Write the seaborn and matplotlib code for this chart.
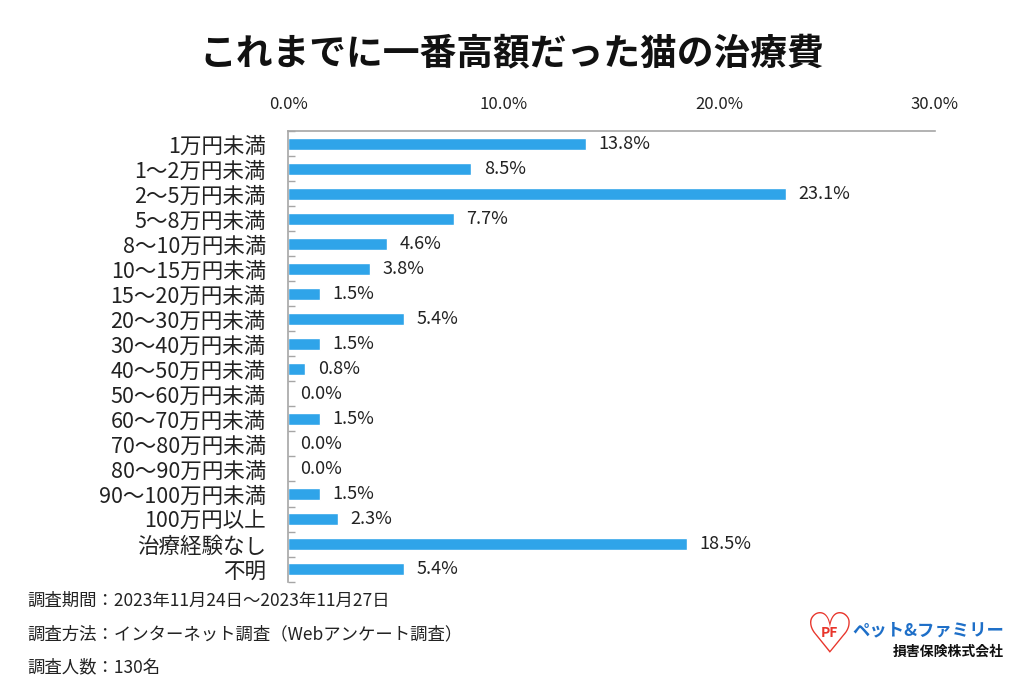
import matplotlib
matplotlib.use("Agg")
import matplotlib.pyplot as plt
import seaborn as sns
import pandas as pd
from matplotlib.ticker import FixedLocator

sns.set_theme(style="white")
plt.rcParams['font.family'] = ['Noto Sans CJK JP', 'DejaVu Sans']

categories = ["1万円未満", "1～2万円未満", "2～5万円未満", "5～8万円未満", "8～10万円未満",
              "10～15万円未満", "15～20万円未満", "20～30万円未満", "30～40万円未満",
              "40～50万円未満", "50～60万円未満", "60～70万円未満", "70～80万円未満",
              "80～90万円未満", "90～100万円未満", "100万円以上", "治療経験なし", "不明"]
values = [13.8, 8.5, 23.1, 7.7, 4.6, 3.8, 1.5, 5.4, 1.5, 0.8, 0.0, 1.5, 0.0, 0.0, 1.5, 2.3, 18.5, 5.4]
x_ticks = [0, 10, 20, 30]
x_tick_labels = ["0.0%", "10.0%", "20.0%", "30.0%"]
title = "これまでに一番高額だった猫の治療費"
notes = ["調査期間：2023年11月24日～2023年11月27日",
         "調査方法：インターネット調査（Webアンケート調査）",
         "調査人数：130名"]

df = pd.DataFrame({"category": categories, "value": values})

fig = plt.figure(figsize=(10.24, 6.83), dpi=100)
ax = fig.add_axes([0.28125, 0.1486, 0.913 - 0.28125, 0.8075 - 0.1486])

sns.barplot(data=df, x="value", y="category", orient="h", color="#2FA4E9",
            saturation=1, width=0.45, ax=ax)

ax.set_xlim(0, 30)
ax.set_ylim(len(categories) - 0.5, -0.5)
ax.xaxis.tick_top()
ax.set_xticks(x_ticks)
ax.set_xticklabels(x_tick_labels, fontsize=12, color="#222222")
ax.tick_params(axis="x", length=0, pad=13)
ax.tick_params(axis="y", which="major", length=0, pad=16, labelsize=15.5, labelcolor="#222222")
ax.yaxis.set_minor_locator(FixedLocator([i + 0.5 for i in range(-1, len(categories))]))
ax.tick_params(axis="y", which="minor", direction="in", length=5, width=1, color="#A6A6A6", left=True)
ax.set_xlabel("")
ax.set_ylabel("")

for s in ["right", "bottom"]:
    ax.spines[s].set_visible(False)
for s in ["top", "left"]:
    ax.spines[s].set_color("#A6A6A6")
    ax.spines[s].set_linewidth(1.2)

for i, v in enumerate(values):
    ax.annotate(f"{v:.1f}%", xy=(v, i), xytext=(9, 0), textcoords="offset points",
                ha="left", va="center", fontsize=13, color="#222222")

fig.text(0.5, 1 - 55 / 683, title, ha="center", va="center", fontsize=26.5, fontweight="bold", color="#111111")

for k, t in enumerate(notes):
    fig.text(0.027, 1 - (601 + 33 * k) / 683, t, ha="left", va="center", fontsize=12.5, color="#222222")

# logo
fig.text(0.81, 1 - 637 / 683, "♡", ha="center", va="center", fontsize=40,
         color="#E8352B", family=["DejaVu Sans"], fontweight="bold")
fig.text(0.81, 1 - 633 / 683, "PF", ha="center", va="center", fontsize=10,
         color="#E8352B", fontweight="bold", style="italic")
fig.text(0.832, 1 - 630 / 683, "ペット&ファミリー", ha="left", va="center", fontsize=12.5,
         color="#1E6FC8", fontweight="bold")
fig.text(0.98, 1 - 652 / 683, "損害保険株式会社", ha="right", va="center", fontsize=10,
         color="#111111", fontweight="bold")

fig.savefig("out.png", dpi=100)
